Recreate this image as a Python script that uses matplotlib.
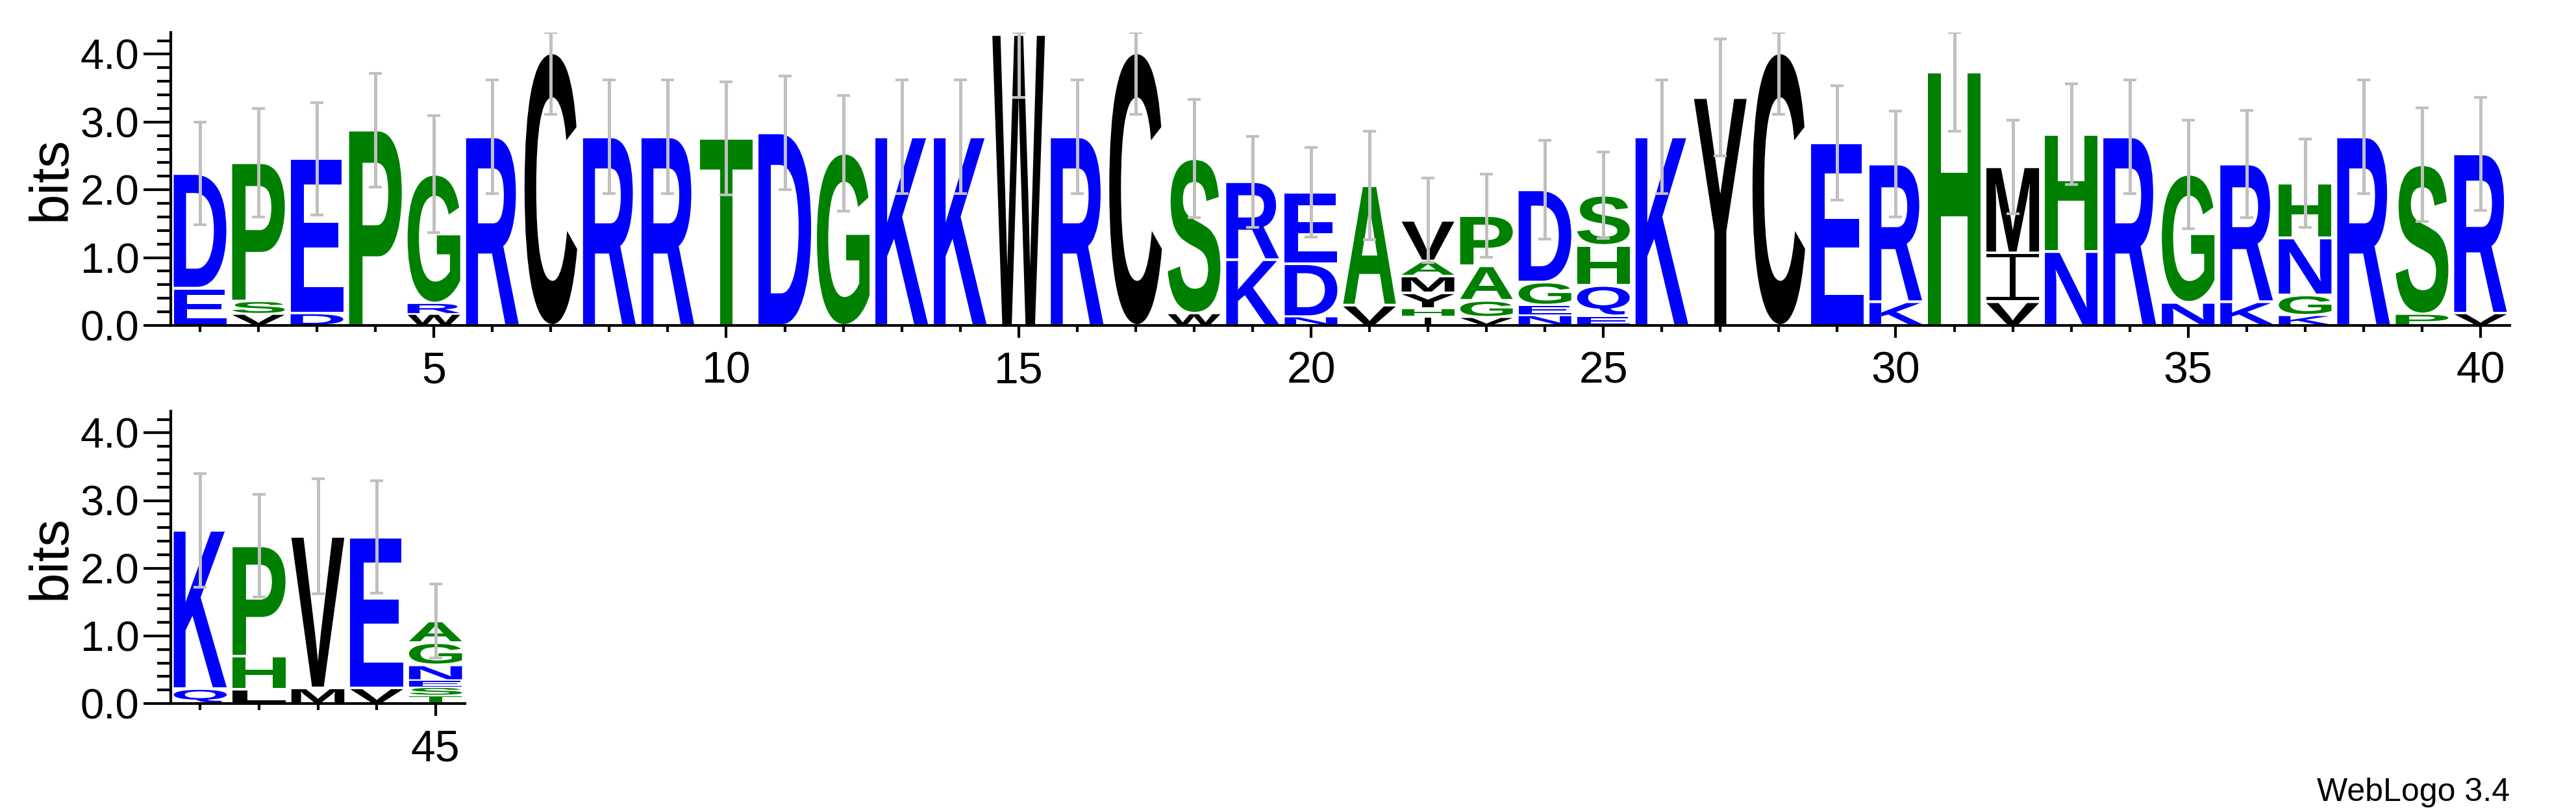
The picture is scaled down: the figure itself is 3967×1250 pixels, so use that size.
import matplotlib
matplotlib.use("Agg")
import matplotlib.pyplot as plt
import matplotlib.transforms as mtransforms
from matplotlib.font_manager import FontProperties
from matplotlib.patches import PathPatch
from matplotlib.path import Path
from matplotlib.textpath import TextPath
from matplotlib.ticker import MultipleLocator, FormatStrFormatter

plt.rcParams['font.family'] = ['Liberation Sans', 'DejaVu Sans']

# letters in each stack, bottom to top
stacks = ["ED", "VSP", "DE", "P", "WRG", "R", "C", "R", "R", "T",
          "D", "G", "K", "K", "W", "R", "C", "WS", "KR", "NDE",
          "VA", "IHYMAV", "VGAP", "NEGD", "EQHS", "K", "Y", "C", "E", "KR",
          "H", "VIM", "NH", "R", "NG", "KR", "KGNH", "R", "PS", "VR",
          "QK", "LHP", "MV", "VE", "TSENGA"]

# letter heights in bits, same order
heights = [[0.55, 1.69], [0.17, 0.19, 2.04], [0.18, 2.28], [2.88], [0.17, 0.16, 1.90],
           [2.78], [4.02], [2.78], [2.78], [2.76],
           [2.84], [2.54], [2.78], [2.78], [4.29],
           [2.78], [4.02], [0.18, 2.28], [0.97, 1.15], [0.13, 0.78, 1.05],
           [0.30, 1.76], [0.13, 0.12, 0.23, 0.25, 0.22, 0.60], [0.12, 0.25, 0.51, 0.74],
           [0.15, 0.15, 0.34, 1.36], [0.14, 0.45, 0.59, 0.74],
           [2.78], [3.36], [4.02], [2.69], [0.35, 2.03],
           [3.74], [0.35, 0.72, 1.27], [1.09, 1.73], [2.78], [0.34, 1.89],
           [0.35, 2.03], [0.15, 0.30, 0.84, 0.81], [2.78], [0.17, 2.20], [0.18, 2.35],
           [0.22, 2.34], [0.21, 0.49, 1.63], [0.23, 2.24], [0.23, 2.23],
           [0.12, 0.12, 0.10, 0.23, 0.33, 0.32]]

# error bar half lengths
errors = [0.76, 0.80, 0.83, 0.84, 0.86, 0.84, 0.91, 0.84, 0.84, 0.83,
          0.84, 0.85, 0.84, 0.84, 0.93, 0.84, 0.91, 0.87, 0.67, 0.66,
          0.80, 0.62, 0.61, 0.73, 0.64, 0.84, 0.86, 0.91, 0.84, 0.78,
          0.88, 0.69, 0.74, 0.84, 0.80, 0.79, 0.65, 0.84, 0.84, 0.83,
          0.84, 0.76, 0.85, 0.83, 0.55]

ymax = 4.32
colors = {}
for c in "RKDENQ":
    colors[c] = "#0000ff"
for c in "SGHTAP":
    colors[c] = "#008000"
for c in "YVMCLFIW":
    colors[c] = "#000000"

fp = FontProperties(family='Liberation Sans', weight='bold')
glyphs = {}


def glyph(ch):
    if ch not in glyphs:
        if ch == 'I':
            # weblogo draws I with serifs
            b, s0, s1 = 0.07, 0.44, 0.56
            verts = [(0, 0), (1, 0), (1, b), (s1, b), (s1, 1 - b), (1, 1 - b), (1, 1),
                     (0, 1), (0, 1 - b), (s0, 1 - b), (s0, b), (0, b), (0, 0)]
            codes = [Path.MOVETO] + [Path.LINETO] * 11 + [Path.CLOSEPOLY]
            glyphs[ch] = Path(verts, codes)
        else:
            glyphs[ch] = TextPath((0, 0), ch, size=1, prop=fp)
    return glyphs[ch]


def draw_letter(ax, ch, x, y0, h, w=0.9):
    p = glyph(ch)
    ext = p.get_extents()
    pad = min(0.02, h * 0.08)
    hh = h - 2 * pad
    t = (mtransforms.Affine2D().translate(-ext.x0, -ext.y0)
         .scale(w / ext.width, hh / ext.height)
         .translate(x - w / 2, y0 + pad))
    ax.add_patch(PathPatch(t.transform_path(p), fc=colors[ch], ec='none', lw=0, zorder=2))


def draw_logo(ax, first, last, major):
    xs, tops, lo, hi = [], [], [], []
    for pos in range(first, last + 1):
        y = 0
        for ch, h in zip(stacks[pos - 1], heights[pos - 1]):
            draw_letter(ax, ch, pos, y, h)
            y += h
        xs.append(pos)
        tops.append(y)
        e = errors[pos - 1]
        lo.append(e)
        hi.append(min(e, ymax - y))
    ax.errorbar(xs, tops, yerr=[lo, hi], fmt='none', ecolor='#c0c0c0',
                elinewidth=3.6, capsize=7.5, capthick=3, zorder=5)
    ax.set_xlim(first - 0.5, last + 0.5)
    ax.set_ylim(0, ymax)
    ax.spines['top'].set_visible(False)
    ax.spines['right'].set_visible(False)
    ax.spines['left'].set_linewidth(3)
    ax.spines['bottom'].set_linewidth(3)
    ax.set_xticks(major)
    ax.set_xticks(range(first, last + 1), minor=True)
    ax.set_yticks([0, 1, 2, 3, 4])
    ax.yaxis.set_minor_locator(MultipleLocator(0.2))
    ax.yaxis.set_major_formatter(FormatStrFormatter('%.1f'))
    ax.tick_params(axis='y', which='major', length=30, width=3, labelsize=47, pad=5)
    ax.tick_params(axis='y', which='minor', length=15, width=3)
    ax.tick_params(axis='x', which='major', length=14, width=3, labelsize=49, pad=14)
    ax.tick_params(axis='x', which='minor', length=7, width=3)
    ax.set_ylabel('bits', fontsize=60)


fig = plt.figure(figsize=(39.67, 12.5), dpi=100)
W, H = 3967, 1250
ax1 = fig.add_axes([263 / W, (H - 501) / H, (3865 - 263) / W, (501 - 50) / H])
ax2 = fig.add_axes([263 / W, (H - 1083) / H, (716 - 263) / W, (1083 - 633) / H])

draw_logo(ax1, 1, 40, list(range(5, 41, 5)))
draw_logo(ax2, 41, 45, [45])
ax1.yaxis.set_label_coords(-145 / (3865 - 263), 0.5)
ax2.yaxis.set_label_coords(-145 / (716 - 263), 0.5)

fig.text(3865 / W, (H - 1233) / H, 'WebLogo 3.4', ha='right', va='baseline', fontsize=36)

fig.savefig('out.png', dpi=100)
